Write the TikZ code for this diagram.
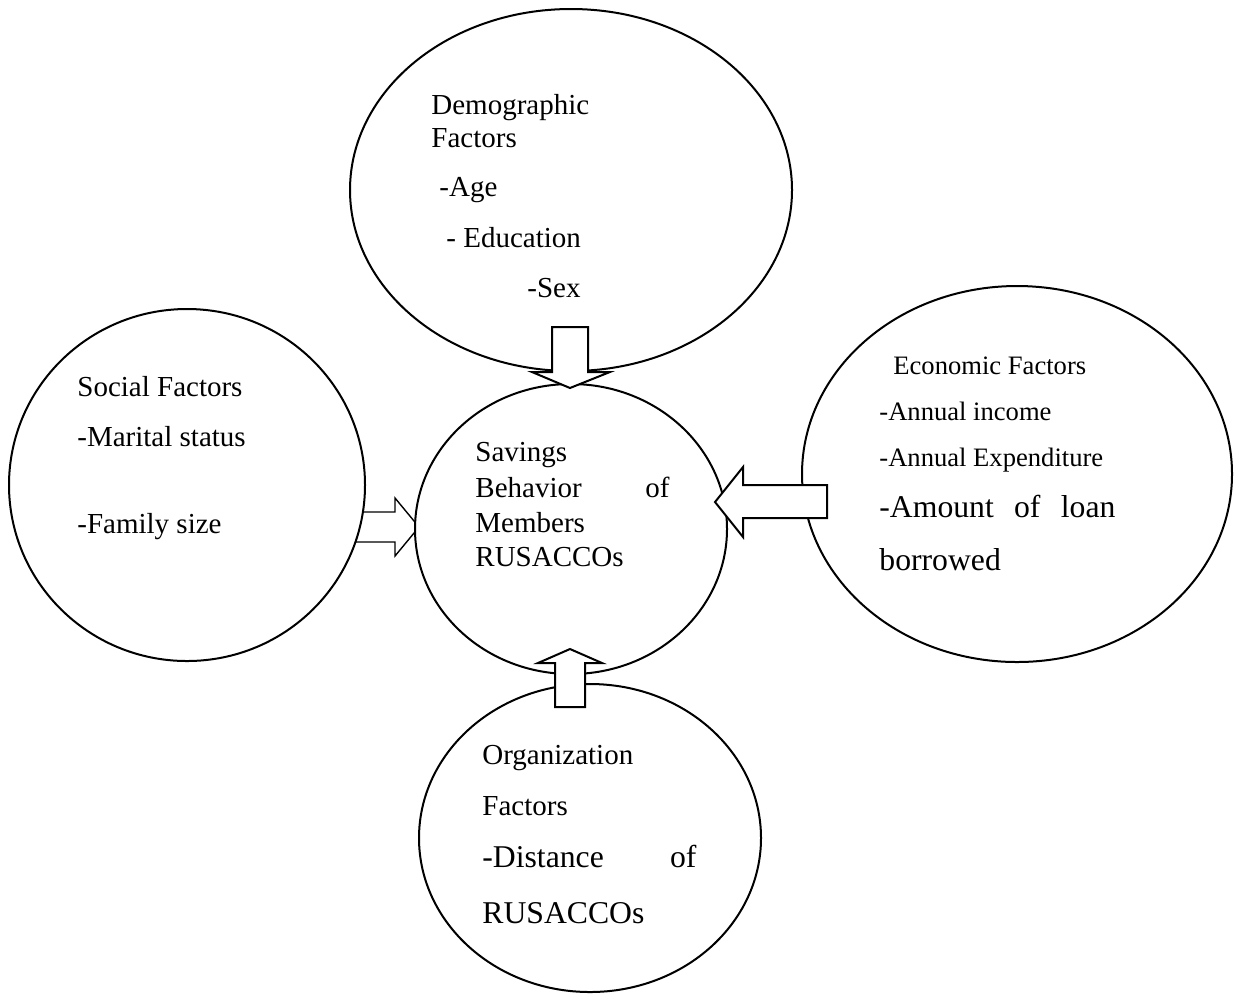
\documentclass[tikz,border=0pt]{standalone}
\usepackage{fontspec}
\setmainfont{Liberation Serif}
\usetikzlibrary{shapes.geometric,positioning}

\tikzset{
  oval/.style={draw, ellipse, fill=white, line width=1pt, inner sep=0pt},
  txt/.style={anchor=base west, inner sep=0pt, font=\fontsize{14.5}{17}\selectfont},
  txtsmall/.style={txt, font=\fontsize{13.3}{16}\selectfont},
  txtbig/.style={txt, font=\fontsize{15.85}{19}\selectfont},
  fatarrow/.style={draw, fill=white, line width=1pt, line join=miter}
}

\begin{document}
\begin{tikzpicture}[x=0.5pt, y=-0.5pt]
        \useasboundingbox (0,0) rectangle (1234,993);

        % arrow from social factors, its ends hidden by the ovals
        \draw[fatarrow, line width=0.7pt] (340,512) -- (395,512) -- (395,498) -- (419,527)
              -- (395,556) -- (395,542) -- (340,542);

        \node[oval, minimum width=221pt, minimum height=181pt] (demo) at (571,190) {};
        \node[oval, minimum width=178pt, minimum height=176pt] (social) at (187,485) {};
        \node[oval, minimum width=156pt, minimum height=145pt] (saving) at (571,529) {};
        \node[oval, minimum width=215pt, minimum height=188pt] (econ) at (1017,474) {};
        \node[oval, minimum width=171pt, minimum height=154pt] (org) at (590,838) {};

        % block arrows into the savings oval
        \draw[fatarrow] (552,327) -- (588,327) -- (588,372) -- (610,372) -- (570,388)
              -- (532,372) -- (552,372) -- cycle;
        \draw[fatarrow] (827,485) -- (827,518) -- (743,518) -- (743,537) -- (715,502)
              -- (743,467) -- (743,485) -- cycle;
        \draw[fatarrow] (555,707) -- (585,707) -- (585,663) -- (602,663) -- (570,649)
              -- (538,663) -- (555,663) -- cycle;

        \node[txt] (demo1) at (431,114) {Demographic};
        \node[txt] (demo2) at (431,147) {Factors};
        \node[txt] (demo3) at (439,196) {-Age};
        \node[txt] (demo4) at (446,247) {- Education};
        \node[txt] (demo5) at (527,297) {-Sex};

        \node[txt] (social1) at (77,396) {Social Factors};
        \node[txt] (social2) at (77,446) {-Marital status};
        \node[txt] (social3) at (77,533) {-Family size};

        \node[txt] (saving1) at (475,461) {Savings};
        \node[txt] (saving2) at (475,497) {\makebox[97pt][s]{Behavior of}};
        \node[txt] (saving3) at (475,532) {Members};
        \node[txt] (saving4) at (475,566) {RUSACCOs};

        \node[txtsmall] (econ1) at (893,374) {Economic Factors};
        \node[txtsmall] (econ2) at (879,420) {-Annual income};
        \node[txtsmall] (econ3) at (879,466) {-Annual Expenditure};
        \node[txtbig] (econ4) at (879,517) {\makebox[118pt][s]{-Amount of loan}};
        \node[txtbig] (econ5) at (879,570) {borrowed};

        \node[txt] (org1) at (482,764) {Organization};
        \node[txt] (org2) at (482,815) {Factors};
        \node[txtbig] (org3) at (482,867) {\makebox[107pt][s]{-Distance of}};
        \node[txtbig] (org4) at (482,923) {RUSACCOs};
\end{tikzpicture}
\end{document}
